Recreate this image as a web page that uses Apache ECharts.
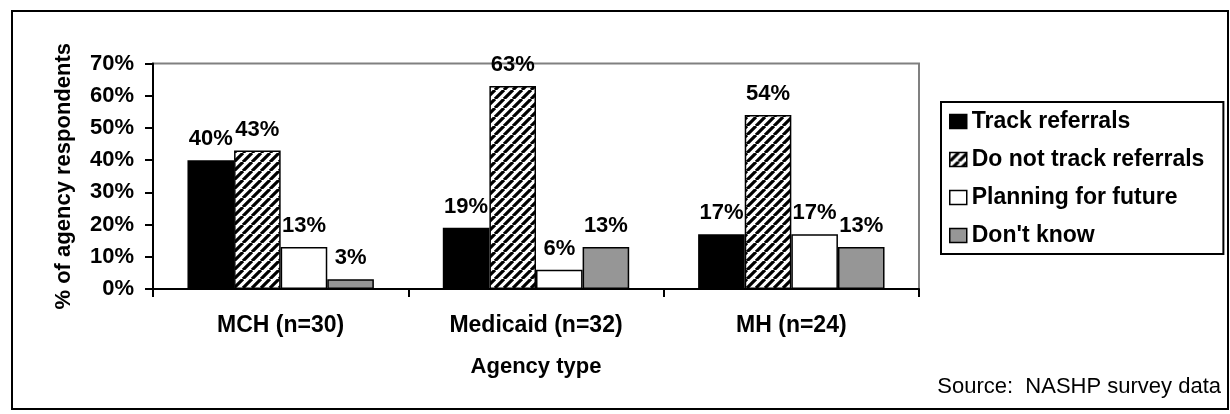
<!DOCTYPE html>
<html><head><meta charset="utf-8">
<script src="https://cdn.jsdelivr.net/npm/echarts@6/dist/echarts.min.js"></script>
<style>html,body{margin:0;padding:0;background:#fff}#c{width:1230px;height:414px}</style>
</head><body><div id="c"></div><script>
const categories = ['MCH (n=30)', 'Medicaid (n=32)', 'MH (n=24)'];
const seriesNames = ['Track referrals', 'Do not track referrals', 'Planning for future', "Don't know"];
const trackReferrals = [40, 19, 17];
const doNotTrackReferrals = [43, 63, 54];
const planningForFuture = [13, 6, 17];
const dontKnow = [3, 13, 13];
const yMin = 0, yMax = 70, yStep = 10;
const xTitle = 'Agency type';
const yTitle = '% of agency respondents';
const sourceNote = 'Source:  NASHP survey data';

function hatch() {
  const s = 9, c = document.createElement('canvas');
  c.width = s; c.height = s;
  const g = c.getContext('2d');
  g.fillStyle = '#fff'; g.fillRect(0, 0, s, s);
  g.strokeStyle = '#000'; g.lineWidth = 3.2;
  g.beginPath();
  for (let k = -1; k <= 1; k++) { g.moveTo(k * s, s); g.lineTo(k * s + s, 0); }
  g.stroke();
  return c;
}
const FONT = 'Liberation Sans, Arial, sans-serif';
const fills = ['#000000', { image: hatch(), repeat: 'repeat' }, '#ffffff', '#969696'];
const values = [trackReferrals, doNotTrackReferrals, planningForFuture, dontKnow];

const chart = echarts.init(document.getElementById('c'), null, { renderer: 'canvas' });
chart.setOption({
  animation: false,
  backgroundColor: '#fff',
  grid: { left: 153, right: 311, top: 63.5, bottom: 125, show: true, borderColor: '#808080', borderWidth: 2, backgroundColor: 'transparent' },
  xAxis: {
    type: 'category', data: categories,
    name: xTitle, nameLocation: 'middle', nameGap: 67,
    nameTextStyle: { fontSize: 22, fontWeight: 'bold', fontFamily: FONT, color: '#000' },
    axisLine: { lineStyle: { color: '#000', width: 2 } },
    axisTick: { show: true, length: 8, alignWithLabel: false, lineStyle: { color: '#000', width: 2 } },
    axisLabel: { margin: 25, fontSize: 23, fontWeight: 'bold', fontFamily: FONT, color: '#000' },
    splitLine: { show: false }
  },
  yAxis: {
    type: 'value', min: yMin, max: yMax, interval: yStep,
    name: yTitle, nameLocation: 'middle', nameGap: 78, nameRotate: 90,
    nameTextStyle: { fontSize: 22, fontWeight: 'bold', fontFamily: FONT, color: '#000' },
    axisLine: { show: true, lineStyle: { color: '#000', width: 2 } },
    axisTick: { show: true, length: 8, lineStyle: { color: '#000', width: 2 } },
    axisLabel: { margin: 19, formatter: '{value}%', fontSize: 22, fontWeight: 'bold', fontFamily: FONT, color: '#000' },
    splitLine: { show: false }
  },
  legend: {
    orient: 'vertical', left: 941, top: 102, padding: [8, 19, 7, 8],
    itemGap: 15, itemWidth: 17, itemHeight: 14, icon: 'rect',
    borderColor: '#000', borderWidth: 2, backgroundColor: '#fff',
    textStyle: { fontSize: 23, fontWeight: 'bold', fontFamily: FONT, color: '#000', lineHeight: 22 },
    itemStyle: { borderColor: '#000', borderWidth: 1.5 },
    data: seriesNames
  },
  series: seriesNames.map((n, i) => ({
    name: n, type: 'bar', data: values[i],
    barGap: '0%', barCategoryGap: '27%',
    itemStyle: { color: fills[i], borderColor: '#000', borderWidth: 1.5 },
    label: { show: true, position: 'top', distance: 10, formatter: '{c}%', fontSize: 22, fontWeight: 'bold', fontFamily: FONT, color: '#000' }
  })),
  graphic: [
    { type: 'rect', silent: true, z: -10, shape: { x: 12, y: 11, width: 1216, height: 398 }, style: { fill: null, stroke: '#000', lineWidth: 2 } },
    { type: 'text', silent: true, x: 1221, y: 387, style: { text: sourceNote, font: '22px ' + FONT, fill: '#000', align: 'right', textAlign: 'right', verticalAlign: 'middle', textVerticalAlign: 'middle' } }
  ]
});
</script></body></html>
